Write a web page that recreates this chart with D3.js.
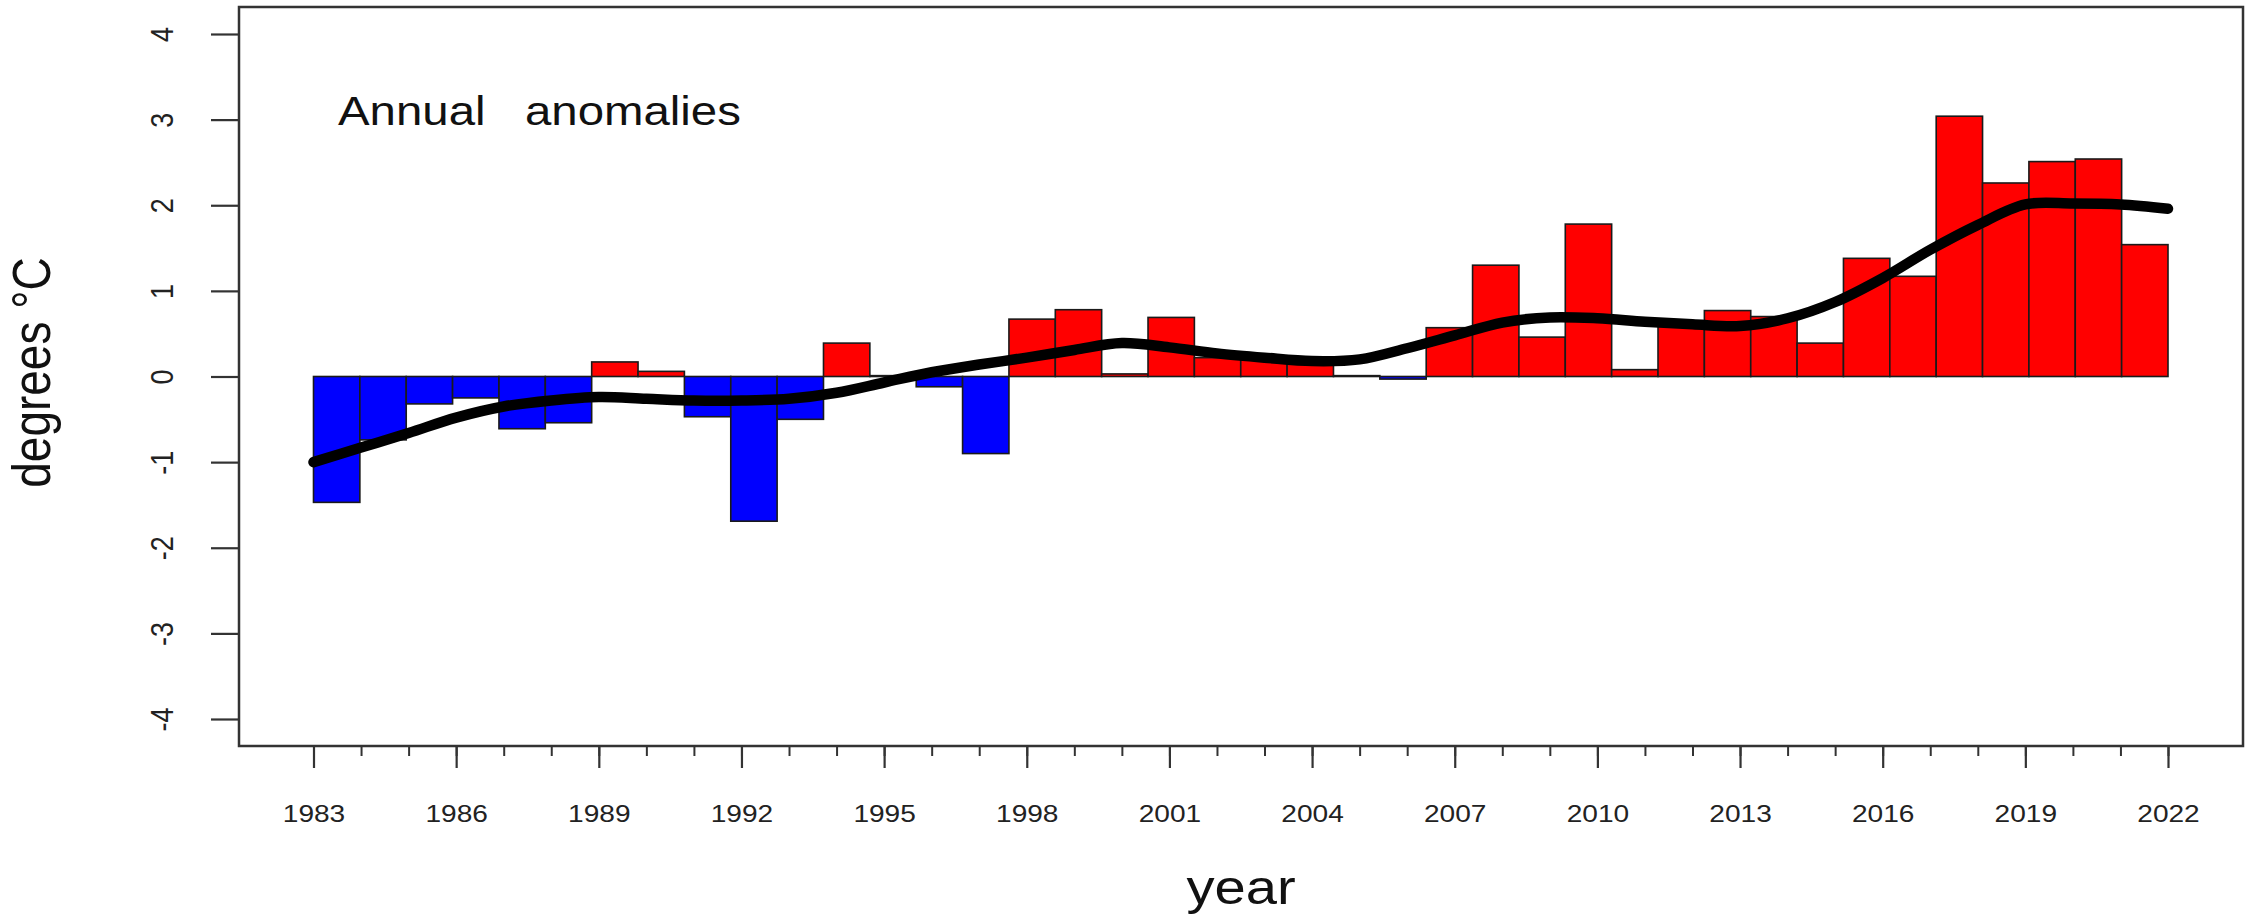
<!DOCTYPE html>
<html>
<head>
<meta charset="utf-8">
<script src="https://cdn.jsdelivr.net/npm/d3@7"></script>
<style>
  body { margin: 0; background: #fff; }
  text { font-family: "Liberation Sans", Arial, Helvetica, sans-serif; }
</style>
</head>
<body>
<svg id="chart"></svg>
<script>
// annual anomalies, one bar per year
var years = d3.range(1983, 2023);
var anomalies = [
  -1.47, -0.74, -0.32, -0.25, -0.61, -0.54, 0.17, 0.06, -0.47, -1.69,
  -0.50, 0.39, 0.01, -0.12, -0.90, 0.67, 0.78, 0.03, 0.69, 0.22,
  0.20, 0.21, 0.01, -0.03, 0.57, 1.30, 0.46, 1.78, 0.08, 0.59,
  0.77, 0.70, 0.39, 1.38, 1.17, 3.04, 2.26, 2.51, 2.54, 1.54
];
// smoothed trend read at each year tick
var smooth = [
  -1.00, -0.83, -0.66, -0.48, -0.35, -0.28, -0.24, -0.26, -0.28, -0.28,
  -0.26, -0.19, -0.07, 0.05, 0.14, 0.22, 0.31, 0.39, 0.34, 0.27,
  0.22, 0.18, 0.20, 0.33, 0.48, 0.63, 0.69, 0.68, 0.64, 0.61,
  0.59, 0.68, 0.87, 1.15, 1.48, 1.77, 2.01, 2.02, 2.01, 1.96
];
var yTicks = [-4, -3, -2, -1, 0, 1, 2, 3, 4];
var xMajor = d3.range(1983, 2023, 3);
var xMinor = d3.range(1983, 2023);

var W = 2249, H = 915;
var box = {left: 239, right: 2243, top: 7, bottom: 746};
var stretch = 1.17;   // the original picture is a bit wide

var svg = d3.select("#chart")
    .attr("width", W)
    .attr("height", H);

svg.append("rect").attr("width", W).attr("height", H).attr("fill", "#fff");

var x = d3.scaleLinear().domain([1983, 2022]).range([313.5, 2168]);
var y = d3.scaleLinear().domain([-4, 4]).range([719, 34]);

// bars fill the span between first and last tick
var band = d3.scaleBand()
    .domain(years)
    .range([x(1983), x(2022)])
    .padding(0);

svg.append("g")
    .selectAll("rect")
    .data(anomalies)
    .enter()
    .append("rect")
    .attr("x", function(d, i) { return band(years[i]); })
    .attr("width", band.bandwidth())
    .attr("y", function(d) { return y(Math.max(0, d)); })
    .attr("height", function(d) { return Math.abs(y(d) - y(0)); })
    .attr("fill", function(d) { return d >= 0 ? "#ff0000" : "#0000ff"; })
    .attr("stroke", "#1a1a1a")
    .attr("stroke-width", 1.6);

// trend line
var line = d3.line()
    .x(function(d, i) { return x(years[i]); })
    .y(function(d) { return y(d); })
    .curve(d3.curveCatmullRom);

svg.append("path")
    .datum(smooth)
    .attr("d", line)
    .attr("fill", "none")
    .attr("stroke", "#000")
    .attr("stroke-width", 10.5)
    .attr("stroke-linecap", "round")
    .attr("stroke-linejoin", "round");

// frame
svg.append("rect")
    .attr("x", box.left)
    .attr("y", box.top)
    .attr("width", box.right - box.left)
    .attr("height", box.bottom - box.top)
    .attr("fill", "none")
    .attr("stroke", "#333")
    .attr("stroke-width", 2.5);

// y axis, labels turned like in R
var yAxis = svg.append("g")
    .attr("transform", "translate(" + box.left + ",0)")
    .call(d3.axisLeft(y).tickValues(yTicks).tickSize(28)
        .tickFormat(function(d) { return String(d); }));
yAxis.select(".domain").remove();
yAxis.selectAll("line").attr("stroke", "#333").attr("stroke-width", 2.2);
yAxis.selectAll("text")
    .attr("x", null).attr("dy", null)
    .attr("transform", "translate(-66,0) scale(" + stretch + ",1) rotate(-90)")
    .attr("text-anchor", "middle")
    .attr("fill", "#222")
    .style("font-size", "27px");

// x axis, minor ticks every year, labelled every three
var xMinorAxis = svg.append("g")
    .attr("transform", "translate(0," + box.bottom + ")")
    .call(d3.axisBottom(x).tickValues(xMinor).tickSize(10).tickFormat(""));
xMinorAxis.select(".domain").remove();
xMinorAxis.selectAll("line").attr("stroke", "#333").attr("stroke-width", 2);

var xAxis = svg.append("g")
    .attr("transform", "translate(0," + box.bottom + ")")
    .call(d3.axisBottom(x).tickValues(xMajor).tickSize(22)
        .tickFormat(function(d) { return String(d); }));
xAxis.select(".domain").remove();
xAxis.selectAll("line").attr("stroke", "#333").attr("stroke-width", 2.2);
xAxis.selectAll("text")
    .attr("y", null).attr("dy", null)
    .attr("transform", "translate(0,76) scale(" + stretch + ",1)")
    .attr("fill", "#222")
    .style("font-size", "24px");

// texts
svg.append("text")
    .attr("transform", "translate(338,125) scale(" + stretch + ",1)")
    .style("font-size", "40.5px")
    .style("white-space", "pre")
    .attr("fill", "#111")
    .text("Annual   anomalies");

svg.append("text")
    .attr("transform", "translate(" + ((box.left + box.right) / 2) + ",904) scale(" + stretch + ",1)")
    .attr("text-anchor", "middle")
    .style("font-size", "48px")
    .attr("fill", "#111")
    .text("year");

svg.append("text")
    .attr("transform", "translate(50," + ((box.top + box.bottom) / 2 - 4) + ") scale(" + stretch + ",1) rotate(-90)")
    .attr("text-anchor", "middle")
    .style("font-size", "46px")
    .attr("fill", "#111")
    .text("degrees °C");
</script>
</body>
</html>
